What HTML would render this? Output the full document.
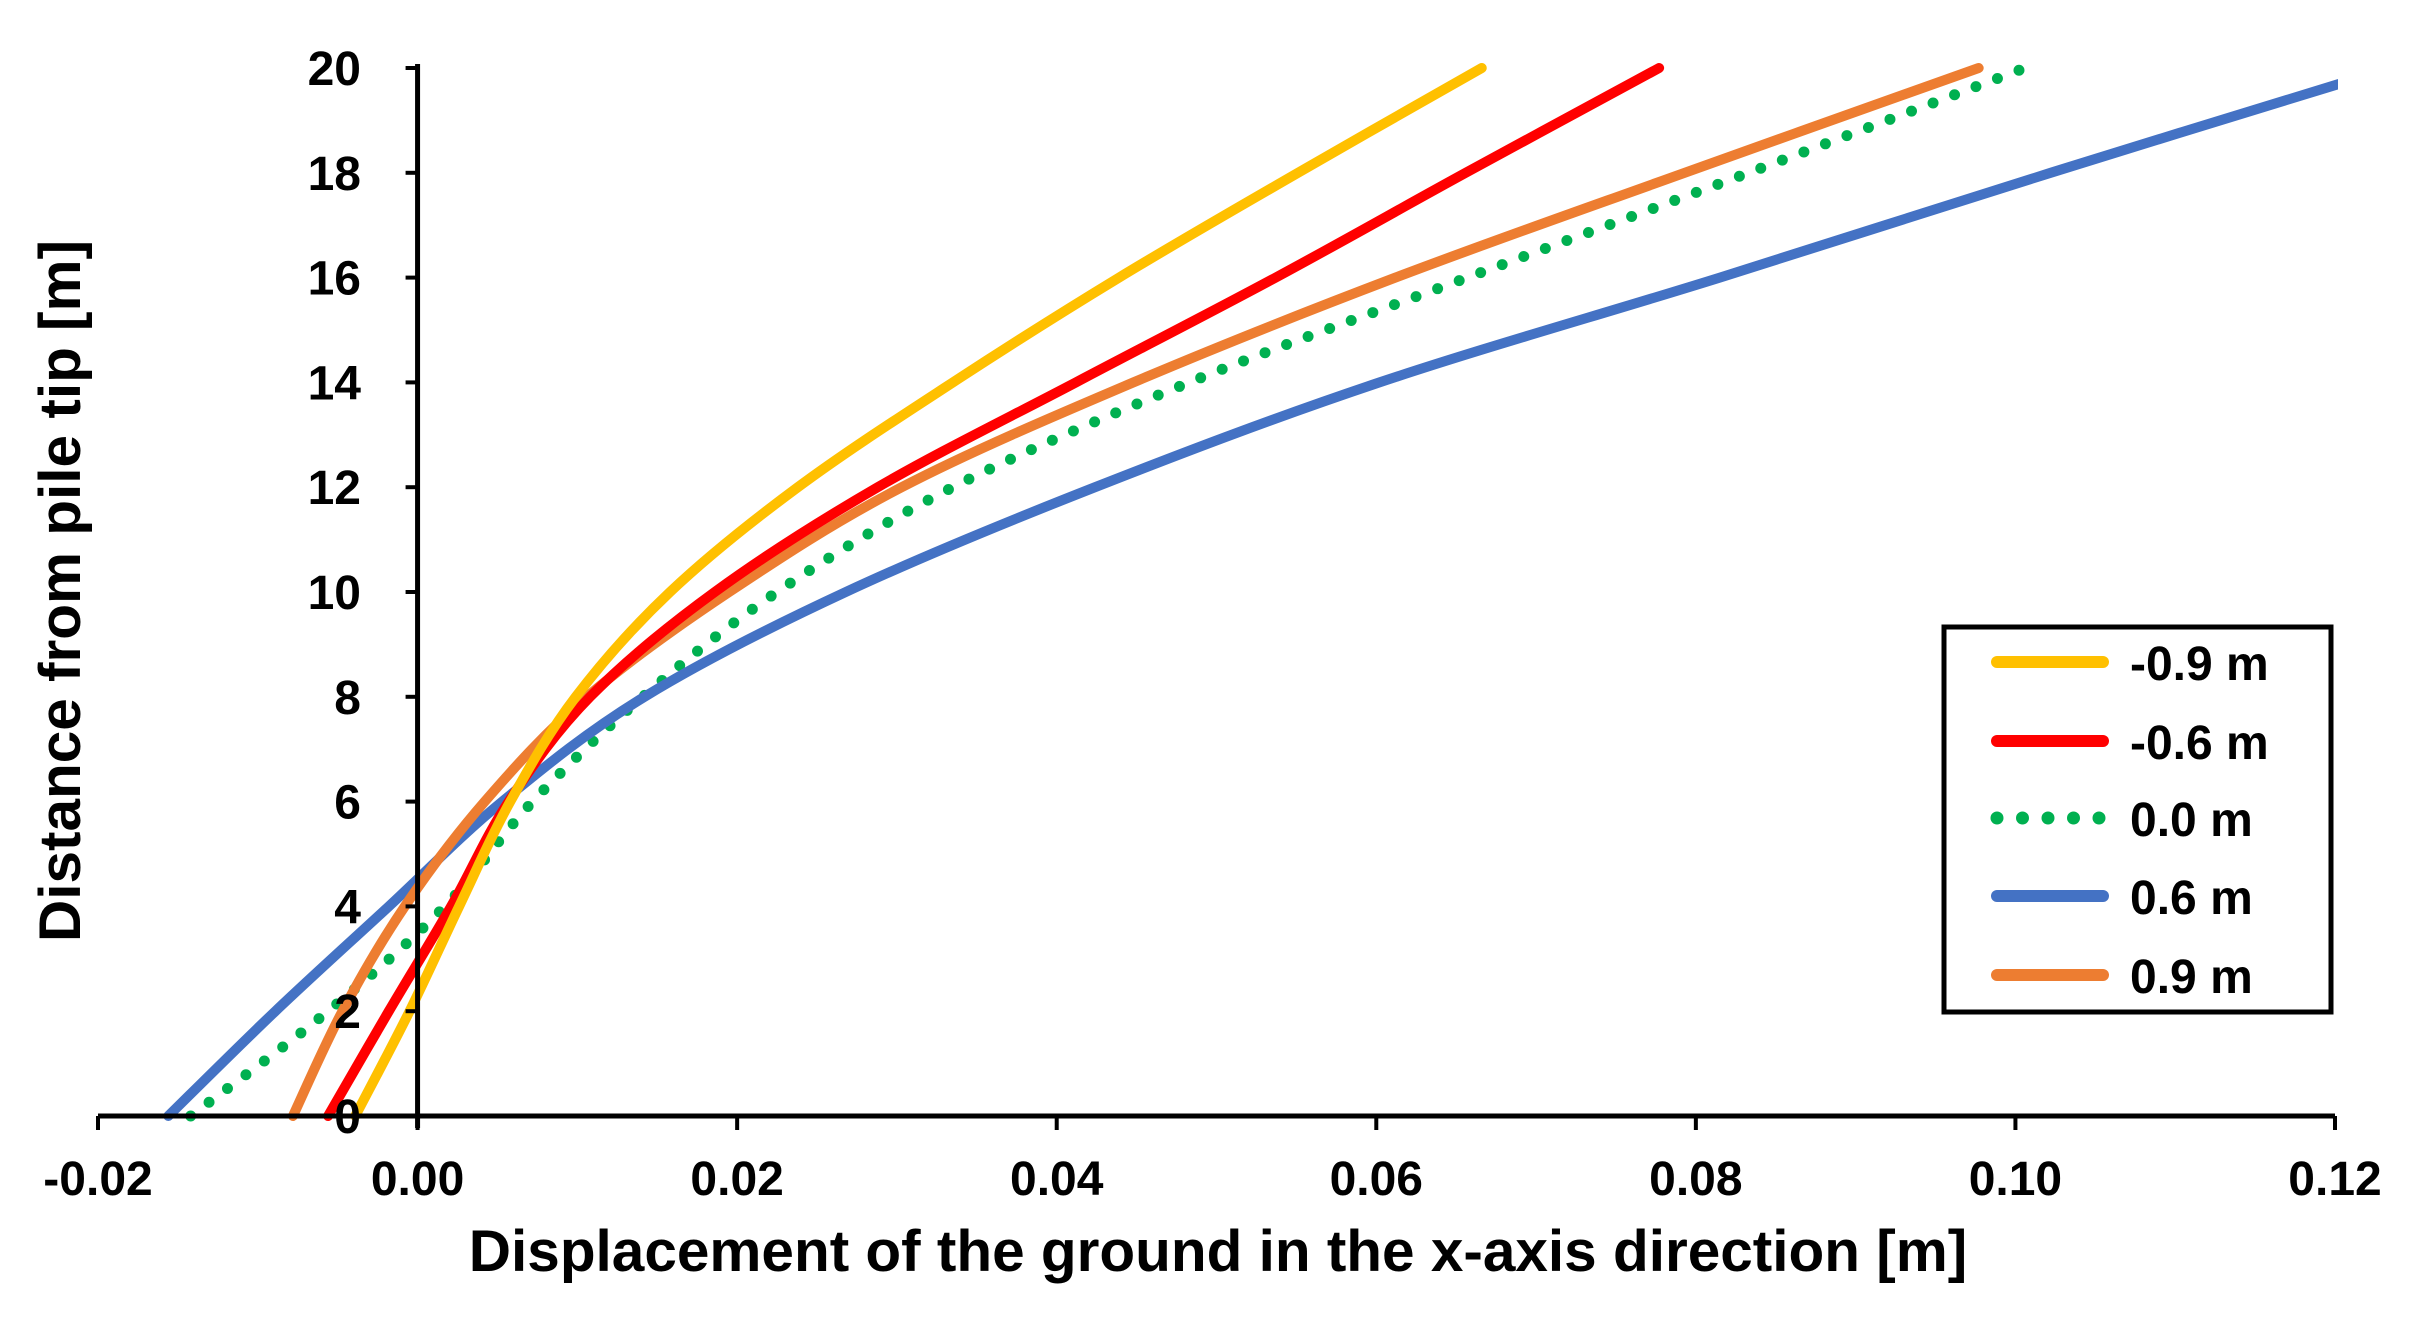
<!DOCTYPE html>
<html><head><meta charset="utf-8"><style>
html,body{margin:0;padding:0;background:#fff;}
svg{display:block;}
text{font-family:"Liberation Sans",Arial,sans-serif;font-weight:bold;fill:#000;}
</style></head><body>
<svg id="chart" width="2430" height="1331" viewBox="0 0 2430 1331" xmlns="http://www.w3.org/2000/svg">
<g id="series"></g>
<g id="axes"></g>
<text x="1218" y="1271" font-size="58.5" text-anchor="middle">Displacement of the ground in the x-axis direction [m]</text>
<text transform="translate(80,591) rotate(-90)" font-size="58.5" text-anchor="middle">Distance from pile tip [m]</text>
<g id="legend"></g>
</svg>
<script>
const depths = [0,2,4,6,8,10,12,14,16,18,20];
const seriesNames = ["-0.9 m","-0.6 m","0.0 m","0.6 m","0.9 m"];
const sYellow = [-0.0039,-0.0005,0.0026,0.0058,0.0099,0.0158,0.0238,0.0335,0.0439,0.0551,0.0666];
const sRed = [-0.0056,-0.0018,0.0021,0.0057,0.0108,0.0186,0.0288,0.0412,0.0537,0.0656,0.0777];
const sGreen = [-0.0142,-0.0056,0.0017,0.0072,0.0141,0.0225,0.0335,0.0483,0.0657,0.0833,0.1006];
const sBlue = [-0.0156,-0.0089,-0.0018,0.0053,0.0142,0.0268,0.0424,0.0602,0.0815,0.1022,0.1235];
const sOrange = [-0.0078,-0.0047,-0.0008,0.0042,0.0106,0.0195,0.0303,0.0448,0.0612,0.0793,0.0977];
const xTicks = ["-0.02","0.00","0.02","0.04","0.06","0.08","0.10","0.12"];
const yTicks = ["0","2","4","6","8","10","12","14","16","18","20"];

const NS="http://www.w3.org/2000/svg";
const X0=98,X1=2335,Y0=1116,Y1=68;
const xmin=-0.02,xmax=0.12,ymin=0,ymax=20;
const xs=v=>X0+(v-xmin)/(xmax-xmin)*(X1-X0);
const ys=v=>Y0-(v-ymin)/(ymax-ymin)*(Y0-Y1);
function mk(tag,attrs,parent){const e=document.createElementNS(NS,tag);for(const k in attrs)e.setAttribute(k,attrs[k]);parent.appendChild(e);return e;}

const sg=document.getElementById('series');
const clip=mk('clipPath',{id:'pc'},sg);mk('rect',{x:0,y:0,width:X1+3,height:Y0+20},clip);
function pathFor(vals){
  const p=vals.map((v,i)=>[xs(v),ys(depths[i])]);
  let d=`M${p[0][0]},${p[0][1]}`;
  for(let i=0;i<p.length-1;i++){
    const a=p[Math.max(i-1,0)],b=p[i],c=p[i+1],e=p[Math.min(i+2,p.length-1)];
    const c1=[b[0]+(c[0]-a[0])/6,b[1]+(c[1]-a[1])/6],c2=[c[0]-(e[0]-b[0])/6,c[1]-(e[1]-b[1])/6];
    d+=` C${c1[0]},${c1[1]} ${c2[0]},${c2[1]} ${c[0]},${c[1]}`;
  }
  return d;
}
const styles=[
 {v:sYellow,c:"#FFC000",n:"series-minus-0-9"},
 {v:sRed,c:"#FF0000",n:"series-minus-0-6"},
 {v:sGreen,c:"#00B050",n:"series-0-0",dot:true},
 {v:sBlue,c:"#4472C4",n:"series-0-6"},
 {v:sOrange,c:"#ED7D31",n:"series-0-9"}];
const order=[2,3,4,1,0];
order.forEach(i=>{const s=styles[i];
  const el=mk('path',{d:pathFor(s.v),fill:'none',stroke:s.c,'stroke-width':s.dot?11:10,'stroke-linecap':'round','clip-path':'url(#pc)'},sg);
  if(s.dot){el.setAttribute('stroke-dasharray','0 23');}
  
  
});

const ax=document.getElementById('axes');
mk('line',{x1:X0,y1:Y0,x2:X1,y2:Y0,stroke:'#000','stroke-width':5},ax);
mk('line',{x1:xs(0),y1:Y1-4,x2:xs(0),y2:Y0+12,stroke:'#000','stroke-width':5},ax);
xTicks.forEach(t=>{const x=xs(parseFloat(t));
  mk('line',{x1:x,y1:Y0,x2:x,y2:Y0+14,stroke:'#000','stroke-width':4},ax);
  const tx=mk('text',{x:x,y:Y0+79,'font-size':48,'text-anchor':'middle'},ax);tx.textContent=t;
  
  
});
yTicks.forEach(t=>{const y=ys(parseFloat(t));
  mk('line',{x1:xs(0)-12,y1:y,x2:xs(0),y2:y,stroke:'#000','stroke-width':4},ax);
  const tx=mk('text',{x:361,y:y+17,'font-size':48,'text-anchor':'end'},ax);tx.textContent=t;
  
  
});

const lg=document.getElementById('legend');
mk('rect',{x:1944,y:627,width:387,height:385,fill:'#fff',stroke:'#000','stroke-width':5},lg);
const ly=[662,741,818,896,975];
styles.forEach((s,i)=>{
  const l=mk('line',{x1:1997,y1:ly[i],x2:2103,y2:ly[i],stroke:s.c,'stroke-width':12,'stroke-linecap':'round'},lg);
  if(s.dot){l.setAttribute('stroke-dasharray','0 25.5');l.setAttribute('stroke-width',13);}
  
  
  const t=mk('text',{x:2130,y:ly[i]+18,'font-size':48},lg);t.textContent=seriesNames[i];
  
  
});
</script>
</body></html>
